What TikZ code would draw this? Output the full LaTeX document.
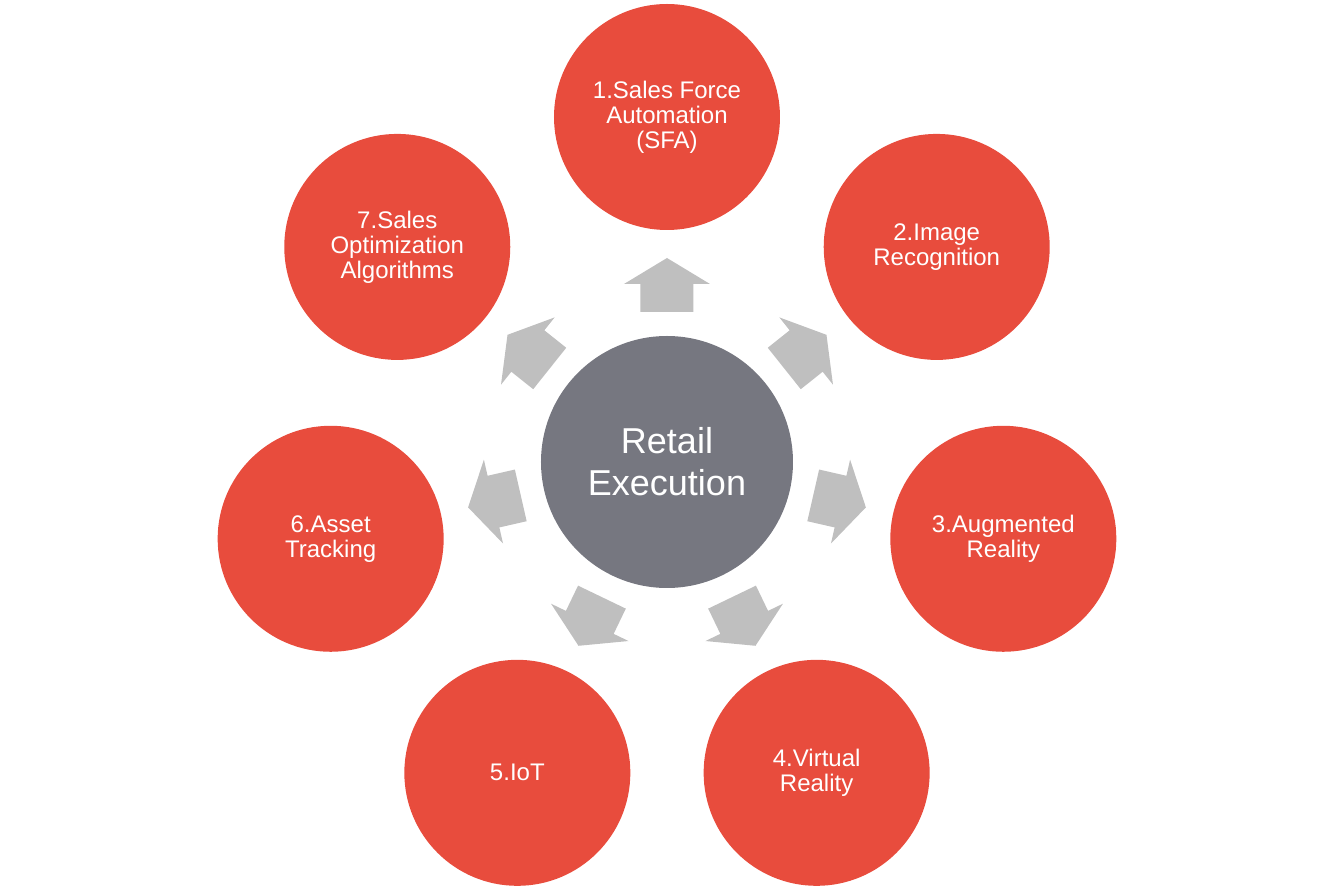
\documentclass[tikz,border=0pt]{standalone}
\usepackage{fontspec}
\setmainfont{Liberation Sans}
\definecolor{itemred}{RGB}{232,76,61}
\definecolor{coregray}{RGB}{118,119,128}
\definecolor{arrowgray}{RGB}{191,191,191}
\begin{document}
\begin{tikzpicture}[x=1pt,y=1pt,
  item/.style={circle,fill=itemred,minimum size=226pt,inner sep=0pt,text=white,align=center,font=\fontsize{24}{25}\selectfont},
  core/.style={circle,fill=coregray,minimum size=252pt,inner sep=0pt,text=white,align=center,font=\fontsize{36}{42}\selectfont}]
\useasboundingbox (-667,-429) rectangle (667,462);
\node[core] (re) at (0,0) {Retail\\Execution};
\node[item] (c1) at (90:345) {1.Sales Force\\Automation\\(SFA)};
\node[item] (c2) at (38.57:345) {2.Image\\Recognition};
\node[item] (c3) at (-12.86:345) {3.Augmented\\Reality};
\node[item] (c4) at (-64.29:345) {4.Virtual\\Reality};
\node[item] (c5) at (-115.71:345) {5.IoT};
\node[item] (c6) at (-167.14:345) {6.Asset\\Tracking};
\node[item] (c7) at (141.43:345) {7.Sales\\Optimization\\Algorithms};
% block arrows
\foreach \a in {90,38.57,-12.86,-64.29,-115.71,-167.14,141.43}
  \fill[arrowgray,rotate=\a] (150,-26.5) -- (178,-26.5) -- (178,-43) -- (204,0)
    -- (178,43) -- (178,26.5) -- (150,26.5) -- cycle;
\end{tikzpicture}
\end{document}
